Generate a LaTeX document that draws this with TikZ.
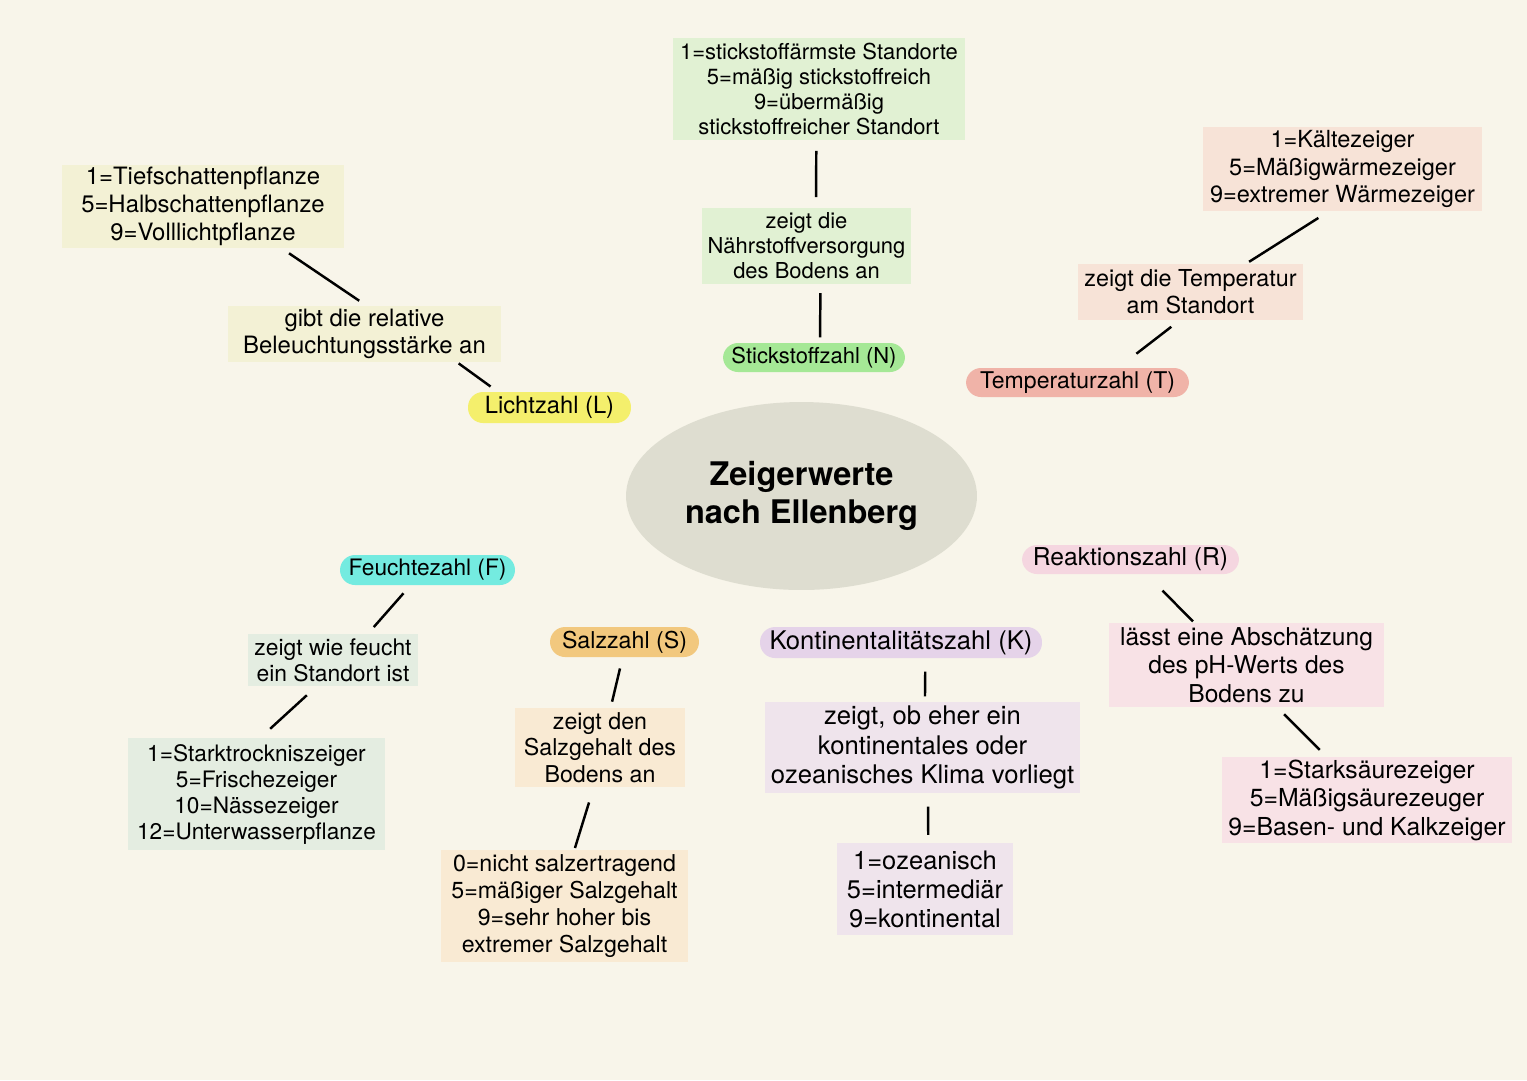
\documentclass[tikz,border=0pt]{standalone}
\usepackage{fontspec}
\setmainfont{TeX Gyre Heros}
\usepackage{tikz}
\usetikzlibrary{shapes.geometric}
\definecolor{paper}{HTML}{F8F5EA}
\definecolor{core}{HTML}{DEDDD0}
\definecolor{lightL}{HTML}{F3F1D5}
\definecolor{pillL}{HTML}{F4EF6C}
\definecolor{lightN}{HTML}{E1F1D3}
\definecolor{pillN}{HTML}{A5E896}
\definecolor{lightT}{HTML}{F7E3D7}
\definecolor{pillT}{HTML}{F0B3A8}
\definecolor{lightF}{HTML}{E4EDE1}
\definecolor{pillF}{HTML}{74EBE0}
\definecolor{lightS}{HTML}{F9EAD3}
\definecolor{pillS}{HTML}{F2C87E}
\definecolor{lightK}{HTML}{EFE4EC}
\definecolor{pillK}{HTML}{E5D3E9}
\definecolor{lightR}{HTML}{F8E2E6}
\definecolor{pillR}{HTML}{F5D6E0}

\begin{document}
\begin{tikzpicture}[x=0.02cm, y=-0.02cm, every node/.style={align=center, inner sep=0pt}, fs/.style 2 args={font=\fontsize{#1}{#2}\selectfont}, sz/.style 2 args={minimum width=#1cm, minimum height=#2cm}, card/.style={fill=#1}, pill/.style={fill=#1, rounded corners=0.3cm}, link/.style={line width=1.4pt, shorten <=5pt, shorten >=5pt}]
\fill[paper] (0,0) rectangle (1527,1080);
\node[ellipse, fill=core, sz={7.02}{3.76}, font=\bfseries\fontsize{18.5}{21.7}\selectfont] (zw) at (801.5,496) {Zeigerwerte\\nach Ellenberg};
\node[card=lightL, sz={5.64}{1.66}, fs={13.6}{15.9}] (ldet) at (203,206.5) {1=Tiefschattenpflanze\\5=Halbschattenpflanze\\9=Volllichtpflanze};
\node[card=lightL, sz={5.46}{1.12}, fs={13.6}{15.4}] (ldesc) at (364.5,334) {gibt die relative\\Beleuchtungsstärke an};
\node[pill=pillL, sz={3.26}{0.62}, fs={13.5}{15.4}] (L) at (549.5,407.5) {Lichtzahl (L)};
\node[card=lightN, sz={5.84}{2.04}, fs={12.5}{14.2}] (ndet) at (819,89) {1=stickstoffärmste Standorte\\5=mäßig stickstoffreich\\9=übermäßig\\stickstoffreicher Standort};
\node[card=lightN, sz={4.18}{1.52}, fs={12.5}{14.2}] (ndesc) at (806.5,246) {zeigt die\\Nährstoffversorgung\\des Bodens an};
\node[pill=pillN, sz={3.64}{0.58}, fs={12.5}{14.2}] (N) at (814,357.5) {Stickstoffzahl (N)};
\node[card=lightT, sz={5.58}{1.68}, fs={13.4}{15.4}] (tdet) at (1342.5,169) {1=Kältezeiger\\5=Mäßigwärmezeiger\\9=extremer Wärmezeiger};
\node[card=lightT, sz={4.50}{1.12}, fs={13.3}{15.4}] (tdesc) at (1190.5,292) {zeigt die Temperatur\\am Standort};
\node[pill=pillT, sz={4.46}{0.58}, fs={13.1}{15}] (T) at (1077.5,382.5) {Temperaturzahl (T)};
\node[pill=pillF, sz={3.50}{0.60}, fs={12.9}{14.8}] (F) at (427.5,570) {Feuchtezahl (F)};
\node[card=lightF, sz={3.40}{1.04}, fs={13}{14.8}] (fdesc) at (333,660) {zeigt wie feucht\\ein Standort ist};
\node[card=lightF, sz={5.14}{2.24}, fs={12.9}{14.8}] (fdet) at (256.5,794) {1=Starktrockniszeiger\\5=Frischezeiger\\10=Nässezeiger\\12=Unterwasserpflanze};
\node[pill=pillS, sz={2.98}{0.60}, fs={13.2}{15}] (S) at (624.5,642) {Salzzahl (S)};
\node[card=lightS, sz={3.40}{1.58}, fs={13.2}{15.1}] (sdesc) at (600,747.5) {zeigt den\\Salzgehalt des\\Bodens an};
\node[card=lightS, sz={4.94}{2.24}, fs={13.2}{15.2}] (sdet) at (564.5,906) {0=nicht salzertragend\\5=mäßiger Salzgehalt\\9=sehr hoher bis\\extremer Salzgehalt};
\node[pill=pillK, sz={5.64}{0.62}, fs={14.6}{16.8}] (K) at (901,642.5) {Kontinentalitätszahl (K)};
\node[card=lightK, sz={6.30}{1.82}, fs={14.6}{16.8}] (kdesc) at (922.5,747.5) {zeigt, ob eher ein\\kontinentales oder\\ozeanisches Klima vorliegt};
\node[card=lightK, sz={3.52}{1.84}, fs={14.5}{16.5}] (kdet) at (925,889) {1=ozeanisch\\5=intermediär\\9=kontinental};
\node[pill=pillR, sz={4.34}{0.58}, fs={14}{16.2}] (R) at (1130.5,559.5) {Reaktionszahl (R)};
\node[card=lightR, sz={5.50}{1.68}, fs={14}{16.2}] (rdesc) at (1246.5,665) {lässt eine Abschätzung\\des pH-Werts des\\Bodens zu};
\node[card=lightR, sz={5.80}{1.72}, fs={14.1}{16.2}] (rdet) at (1367,800) {1=Starksäurezeiger\\5=Mäßigsäurezeuger\\9=Basen- und Kalkzeiger};
\draw[link] (ldet.-28) -- (ldesc.86);\draw[link, shorten <=1pt] (ldesc.-17) -- (L.163);
\draw[link, shorten <=6pt, shorten >=6pt] (ndet.-93) -- (ndesc.76);\draw[link, shorten >=3pt] (ndesc.-70) -- (N.68);
\draw[link, shorten <=7pt, shorten >=2pt] (tdet.-108) -- (tdesc.27);\draw[link, shorten <=6pt, shorten >=13pt] (tdesc.-111) -- (T.20);
\draw[link, shorten <=6pt] (F.-138) -- (fdesc.37);\draw[link, shorten <=7.5pt, shorten >=7.5pt] (fdesc.-122) -- (fdet.86);
\draw[link, shorten <=6.5pt, shorten >=3.5pt] (S.-97) -- (sdesc.75);\draw[link, shorten <=9pt, shorten >=1pt] (sdesc.-99) -- (sdet.80);
\draw[link, shorten <=7.5pt, shorten >=3pt] (K.-33) -- (kdesc.87);\draw[link, shorten <=7.5pt, shorten >=4.5pt] (kdesc.-83) -- (kdet.86);
\draw[link, shorten <=13pt, shorten >=1pt] (R.-43) -- (rdesc.141);\draw[link, shorten <=5.5pt, shorten >=5.5pt] (rdesc.-54) -- (rdet.133);
\end{tikzpicture}
\end{document}
